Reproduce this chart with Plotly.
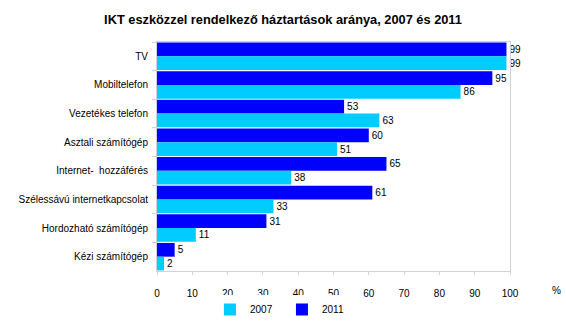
import plotly.graph_objects as go

categories = ["TV", "Mobiltelefon", "Vezetékes telefon", "Asztali számítógép",
              "Internet-  hozzáférés", "Szélessávú internetkapcsolat",
              "Hordozható számítógép", "Kézi számítógép"]
values_2007 = [99, 86, 63, 51, 38, 33, 11, 2]
values_2011 = [99, 95, 53, 60, 65, 61, 31, 5]
x_ticks = [0, 10, 20, 30, 40, 50, 60, 70, 80, 90, 100]

font_narrow = "Liberation Sans Narrow, Arial Narrow, Liberation Sans, Arial"
axis_col = "#D0D0E0"

fig = go.Figure()
fig.add_trace(go.Bar(
    y=categories, x=values_2011, name="2011", orientation="h",
    marker=dict(color="#0000FF", line=dict(width=0)),
    text=values_2011, textposition="outside", cliponaxis=False,
    textfont=dict(size=10, color="black", family=font_narrow),
))
fig.add_trace(go.Bar(
    y=categories, x=values_2007, name="2007", orientation="h",
    marker=dict(color="#00CCFF", line=dict(width=0)),
    text=values_2007, textposition="outside", cliponaxis=False,
    textfont=dict(size=10, color="black", family=font_narrow),
))

fig.update_layout(
    width=566, height=331,
    margin=dict(l=157, r=56, t=42, b=60, autoexpand=False),
    paper_bgcolor="white", plot_bgcolor="white",
    barmode="group", bargap=0.04, bargroupgap=0,
    title=dict(text="<b>IKT eszközzel rendelkező háztartások aránya, 2007 és 2011</b>",
               x=0.5, xanchor="center", y=0.94, yanchor="middle",
               font=dict(family="Liberation Sans, Arial", size=12.8, color="black")),
    font=dict(family=font_narrow, size=10, color="black"),
    showlegend=True,
    legend=dict(orientation="h", traceorder="reversed", x=0.15, xanchor="left",
                yref="container", y=0.065, yanchor="middle",
                font=dict(size=10, family=font_narrow),
                itemwidth=30, entrywidth=27, tracegroupgap=0),
)
fig.update_xaxes(range=[0, 100], tickvals=x_ticks, ticks="outside", ticklen=3,
                 tickcolor=axis_col, showline=True, linecolor=axis_col, mirror=True,
                 showgrid=False, zeroline=False, ticklabelstandoff=10,
                 tickfont=dict(size=10, family=font_narrow))
fig.update_yaxes(autorange="reversed", ticks="outside", tickson="boundaries", ticklen=4,
                 tickcolor=axis_col, showline=True, linecolor=axis_col, mirror=True,
                 showgrid=False, ticklabelstandoff=6,
                 tickfont=dict(size=10, family=font_narrow))

fig.add_annotation(text="%", xref="paper", yref="paper", x=1.133, y=-0.083,
                   showarrow=False, xanchor="center", yanchor="middle",
                   font=dict(size=10, family=font_narrow))

fig.write_html("out.html")
